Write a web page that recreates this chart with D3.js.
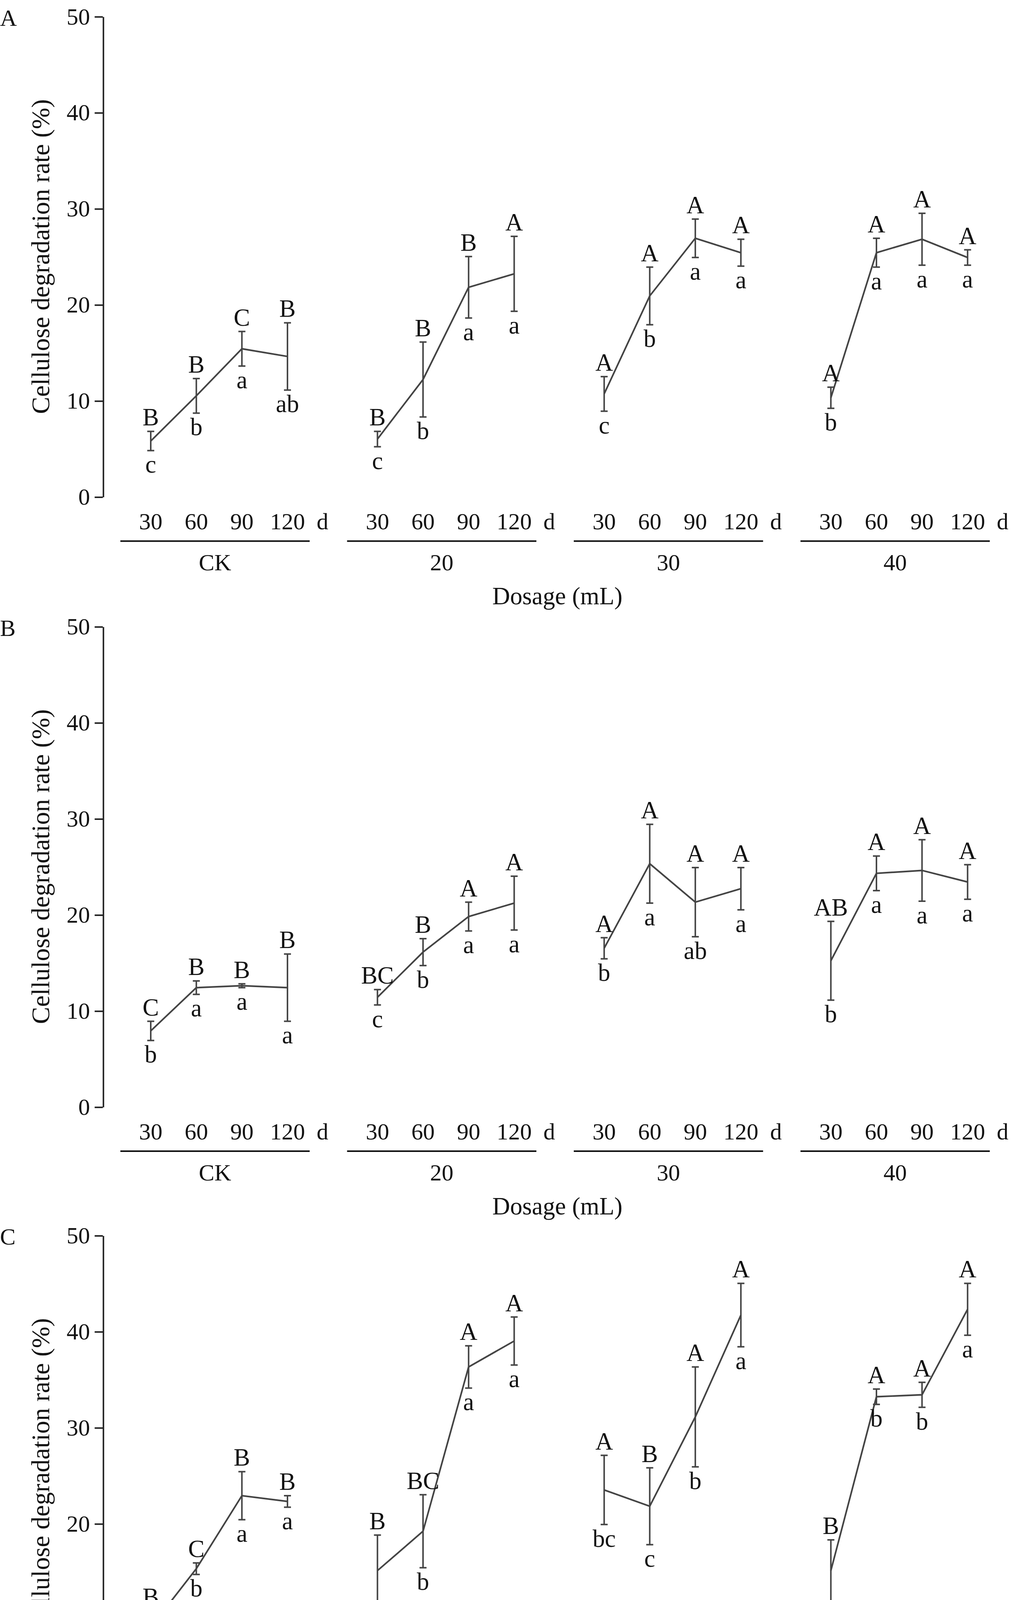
<!DOCTYPE html>
<html>
<head>
<meta charset="utf-8">
<script src="https://cdn.jsdelivr.net/npm/d3@7"></script>
<style>
  html, body { margin: 0; padding: 0; background: #fff; overflow: hidden; }
  svg { display: block; }
  text { font-family: "Liberation Serif", "Times New Roman", serif; fill: #111; }
</style>
</head>
<body>
<div id="container"></div>
<script>
const groups = ["CK", "20", "30", "40"];
const days = ["30", "60", "90", "120"];

// mean per panel, per group, per day
const meansA = [[5.8, 10.5, 15.4, 14.6], [6.0, 12.2, 21.8, 23.2], [10.7, 20.9, 26.9, 25.4], [10.3, 25.4, 26.8, 24.9]];
const errA = [[1.0, 1.8, 1.8, 3.5], [0.8, 3.9, 3.2, 3.9], [1.8, 3.0, 2.0, 1.4], [1.1, 1.5, 2.7, 0.8]];
const upperA = [["B", "B", "C", "B"], ["B", "B", "B", "A"], ["A", "A", "A", "A"], ["A", "A", "A", "A"]];
const lowerA = [["c", "b", "a", "ab"], ["c", "b", "a", "a"], ["c", "b", "a", "a"], ["b", "a", "a", "a"]];

const meansB = [[7.9, 12.4, 12.6, 12.4], [11.4, 16.1, 19.8, 21.2], [16.5, 25.3, 21.3, 22.7], [15.2, 24.3, 24.6, 23.4]];
const errB = [[1.0, 0.7, 0.2, 3.5], [0.8, 1.4, 1.5, 2.8], [1.1, 4.1, 3.6, 2.2], [4.1, 1.8, 3.2, 1.8]];
const upperB = [["C", "B", "B", "B"], ["BC", "B", "A", "A"], ["A", "A", "A", "A"], ["AB", "A", "A", "A"]];
const lowerB = [["b", "a", "a", "a"], ["c", "b", "a", "a"], ["b", "a", "ab", "a"], ["b", "a", "a", "a"]];

const meansC = [[9.2, 15.3, 22.9, 22.3], [15.1, 19.2, 36.3, 39.0], [23.5, 21.8, 31.1, 41.7], [15.1, 33.2, 33.4, 42.3]];
const errC = [[1.7, 0.6, 2.5, 0.6], [3.7, 3.8, 2.2, 2.5], [3.6, 4.0, 5.2, 3.3], [3.2, 0.8, 1.3, 2.7]];
const upperC = [["B", "C", "B", "B"], ["B", "BC", "A", "A"], ["A", "B", "A", "A"], ["B", "A", "A", "A"]];
const lowerC = [["b", "b", "a", "a"], ["b", "b", "a", "a"], ["bc", "c", "b", "a"], ["c", "b", "b", "a"]];

const yTicks = [0, 10, 20, 30, 40, 50];

const panels = [
  { name: "A", means: meansA, err: errA, up: upperA, low: lowerA, top: 14 },
  { name: "B", means: meansB, err: errB, up: upperB, low: lowerB, top: 536 },
  { name: "C", means: meansC, err: errC, up: upperC, low: lowerC, top: 1057 }
];

const W = 866, k = 2591 / W;
const root = d3.select("#container").append("svg")
  .attr("width", 2591).attr("height", 4687);
const svg = root.append("g").attr("transform", `scale(${k})`);

const x0 = 88, plotH = 411;
const groupX = d3.scaleBand().domain(groups).range([89, 865]);
const dayX = d3.scalePoint().domain(days).range([40, 157]);

panels.forEach(p => {
  const g = svg.append("g");
  const y = d3.scaleLinear().domain([0, 50]).range([p.top + plotH, p.top]);
  const yAxis = g.append("g").attr("transform", `translate(${x0},0)`)
    .call(d3.axisLeft(y).tickValues(yTicks).tickSize(7).tickSizeOuter(0));
  yAxis.select(".domain").attr("stroke", "#222").attr("stroke-width", 1.3);
  yAxis.selectAll(".tick line").attr("stroke", "#222").attr("stroke-width", 1.3);
  yAxis.selectAll("text").attr("font-size", 20).attr("font-family", "Liberation Serif").attr("x", -11);

  g.append("text").attr("x", 0).attr("y", p.top + 8).attr("font-size", 20).text(p.name);
  g.append("text")
    .attr("transform", `translate(42,${p.top + plotH / 2}) rotate(-90)`)
    .attr("text-anchor", "middle").attr("font-size", 22)
    .text("Cellulose degradation rate (%)");

  const base = p.top + plotH;
  groups.forEach((gr, gi) => {
    const gx = groupX(gr);
    const px = d => gx + dayX(d);
    days.forEach(d => {
      g.append("text").attr("x", px(d)).attr("y", base + 28).attr("text-anchor", "middle")
        .attr("font-size", 20).text(d);
    });
    g.append("text").attr("x", gx + 187).attr("y", base + 28).attr("text-anchor", "middle")
      .attr("font-size", 20).text("d");
    g.append("line").attr("x1", gx + 14).attr("x2", gx + 176)
      .attr("y1", base + 38).attr("y2", base + 38).attr("stroke", "#111").attr("stroke-width", 1.3);
    g.append("text").attr("x", gx + 95).attr("y", base + 63).attr("text-anchor", "middle")
      .attr("font-size", 20).text(gr);

    const pts = days.map((d, i) => ({ d, m: p.means[gi][i], e: p.err[gi][i], u: p.up[gi][i], l: p.low[gi][i] }));
    g.append("path").datum(pts)
      .attr("d", d3.line().x(o => px(o.d)).y(o => y(o.m)))
      .attr("fill", "none").attr("stroke", "#444").attr("stroke-width", 1.4);
    pts.forEach(o => {
      const xx = px(o.d);
      g.append("line").attr("x1", xx).attr("x2", xx).attr("y1", y(o.m + o.e)).attr("y2", y(o.m - o.e))
        .attr("stroke", "#444").attr("stroke-width", 1.3);
      [o.m + o.e, o.m - o.e].forEach(v => {
        g.append("line").attr("x1", xx - 3).attr("x2", xx + 3).attr("y1", y(v)).attr("y2", y(v))
          .attr("stroke", "#444").attr("stroke-width", 1.3);
      });
      g.append("text").attr("x", xx).attr("y", y(o.m + o.e) - 5).attr("text-anchor", "middle")
        .attr("font-size", 21).text(o.u);
      g.append("text").attr("x", xx).attr("y", y(o.m - o.e) + 19).attr("text-anchor", "middle")
        .attr("font-size", 21).text(o.l);
    });
  });
  g.append("text").attr("x", 477).attr("y", base + 92).attr("text-anchor", "middle")
    .attr("font-size", 21).text("Dosage (mL)");
});
</script>
</body>
</html>
